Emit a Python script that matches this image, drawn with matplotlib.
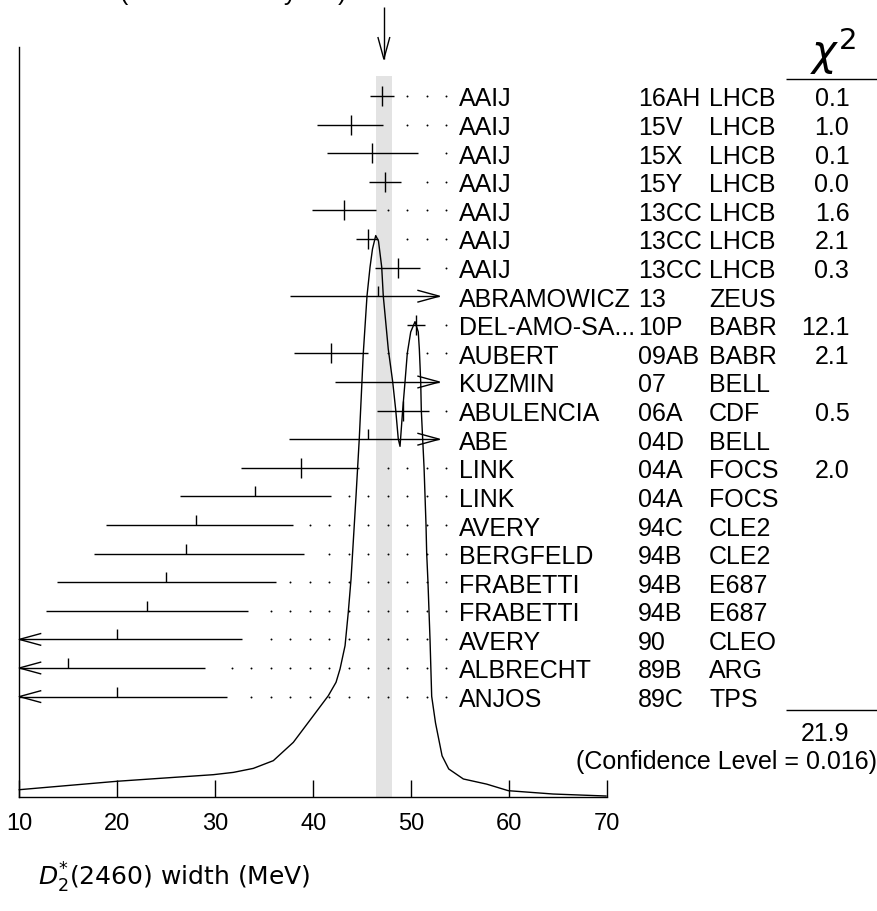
import numpy as np
import matplotlib
matplotlib.use("Agg")
import matplotlib.pyplot as plt

plt.rcParams['font.family'] = ['Liberation Sans', 'DejaVu Sans']
plt.rcParams['mathtext.fontset'] = 'dejavusans'

# measurements, top to bottom
authors = ["AAIJ", "AAIJ", "AAIJ", "AAIJ", "AAIJ", "AAIJ", "AAIJ", "ABRAMOWICZ",
           "DEL-AMO-SA...", "AUBERT", "KUZMIN", "ABULENCIA", "ABE", "LINK", "LINK",
           "AVERY", "BERGFELD", "FRABETTI", "FRABETTI", "AVERY", "ALBRECHT", "ANJOS"]
refs = ["16AH", "15V", "15X", "15Y", "13CC", "13CC", "13CC", "13", "10P", "09AB", "07",
        "06A", "04D", "04A", "04A", "94C", "94B", "94B", "94B", "90", "89B", "89C"]
expts = ["LHCB", "LHCB", "LHCB", "LHCB", "LHCB", "LHCB", "LHCB", "ZEUS", "BABR", "BABR",
         "BELL", "CDF", "BELL", "FOCS", "FOCS", "CLE2", "CLE2", "E687", "E687", "CLEO",
         "ARG", "TPS"]
values = [47.0, 43.8, 46.0, 47.3, 43.1, 45.6, 48.6, 46.6, 50.5, 41.8, 55.0,
          49.2, 45.6, 38.7, 34.1, 28.0, 27.0, 25.0, 23.0, 20.0, 15.0, 20.0]
err_lo = [1.25, 3.4, 4.65, 1.65, 3.2, 1.2, 2.3, 9.0, 0.9, 3.8, 12.8,
          2.7, 8.05, 6.1, 7.7, 9.2, 9.4, 11.15, 10.3, 12.7, 13.9, 11.2]
err_hi = [1.25, 3.3, 4.65, 1.65, 3.3, 1.0, 2.3, 10.0, 0.9, 3.8, 12.8,
          2.6, 8.0, 6.0, 7.7, 9.96, 12.05, 11.2, 10.3, 12.7, 13.9, 11.2]
chi2 = ["0.1", "1.0", "0.1", "0.0", "1.6", "2.1", "0.3", "", "12.1", "2.1", "",
        "0.5", "", "2.0", "", "", "", "", "", "", "", ""]
used = [c != "" for c in chi2]

avg = 47.2
avg_err = 0.8
chi2_total = "21.9"
conf_level = "(Confidence Level = 0.016)"

# ideogram curve (MeV, height in row units)
curve_x = [10.0, 20.0, 29.8, 31.84, 33.88, 35.92, 37.96, 40.0, 41.53, 42.32, 42.73,
           43.24, 43.57, 43.85, 44.36, 44.69, 45.10, 45.48, 45.79, 46.04, 46.37,
           46.65, 46.98, 47.14, 47.65, 48.10, 48.41, 48.67, 48.85, 49.12, 49.36,
           49.59, 49.94, 50.38, 50.71, 50.82, 50.96, 51.02, 51.16, 51.30, 51.40,
           51.50, 51.57, 51.70, 51.91, 52.08, 52.47, 53.14, 53.82, 55.31, 57.69,
           59.90, 64.46, 69.87]
curve_h = [0.245, 0.54, 0.77, 0.85, 0.99, 1.26, 1.90, 2.83, 3.53, 4.0, 4.47,
           5.28, 6.45, 7.61, 10.52, 12.51, 15.50, 17.51, 18.52, 19.15, 19.62,
           19.43, 18.52, 17.51, 15.65, 14.51, 13.52, 12.51, 12.25, 13.52, 14.51,
           15.50, 16.25, 16.61, 16.25, 15.65, 14.51, 13.52, 12.51, 11.52, 10.52,
           9.51, 8.51, 7.51, 5.50, 3.51, 2.58, 1.43, 0.97, 0.62, 0.44,
           0.21, 0.094, 0.024]

W, H = 878, 912
fig = plt.figure(figsize=(W / 100, H / 100), dpi=100)
x0px, x1px = 19.3, 607.3
ybot, ytop = 797.7, 48.0
rowpx = 28.6
ax = fig.add_axes([x0px / W, (H - ybot) / H, (x1px - x0px) / W, (ybot - ytop) / H])
ax.set_xlim(10, 70)
ax.set_ylim(0, (ybot - ytop) / rowpx)
pxx = (x1px - x0px) / 60.0  # pixels per MeV
pxy = rowpx                 # pixels per row

for s in ['top', 'right']:
    ax.spines[s].set_visible(False)
for s in ['left', 'bottom']:
    ax.spines[s].set_linewidth(1.0)
ax.set_xticks([10, 20, 30, 40, 50, 60, 70])
ax.set_yticks([])
ax.tick_params(axis='x', direction='in', length=12.2, width=1.0, labelsize=17, pad=11)

lw = 1.0
fs = 18
kw = dict(color='k', lw=lw, clip_on=False, solid_capstyle='butt')

# average band
ax.fill_betweenx([0, 25.21], avg - avg_err, avg + avg_err, color='#e3e3e3', lw=0, zorder=0)

clip_hi = 52.86
clip_lo = 10.0
head_len = 22 / pxx
head_w = 6 / pxy
tick_h = 10 / pxy

n = len(values)
ypos = (n + 2.5) - np.arange(n)
dot_grid = 53.54 - 1.985 * np.arange(30)

for i in range(n):
    y = ypos[i]
    v = values[i]
    lo = v - err_lo[i]
    hi = v + err_hi[i]
    left = max(lo, clip_lo)
    right = min(hi, clip_hi)
    ax.plot([left, right], [y, y], **kw)
    if hi > clip_hi:
        ax.plot([clip_hi - head_len, clip_hi, clip_hi - head_len],
                [y + head_w, y, y - head_w], **kw)
    if lo < clip_lo:
        ax.plot([clip_lo + head_len, clip_lo, clip_lo + head_len],
                [y + head_w, y, y - head_w], **kw)
    if v < clip_hi:
        if used[i]:
            ax.plot([v, v], [y - tick_h, y + tick_h], **kw)
        else:
            ax.plot([v, v], [y, y + tick_h], **kw)
    if hi <= clip_hi:
        dx = dot_grid[(dot_grid > right + 1.17) & (dot_grid < 54.5)]
        ax.plot(dx, [y] * len(dx), 'o', color='k', ms=1.4, mew=0, clip_on=False)
    ax.text(54.9, y, authors[i], fontsize=fs, va='center_baseline', ha='left', clip_on=False)
    ax.text(73.1, y, refs[i], fontsize=fs, va='center_baseline', ha='left', clip_on=False)
    ax.text(80.4, y, expts[i], fontsize=fs, va='center_baseline', ha='left', clip_on=False)
    if chi2[i]:
        ax.text(94.7, y, chi2[i], fontsize=fs, va='center_baseline', ha='right', clip_on=False)

# ideogram
ax.plot(curve_x, curve_h, color='k', lw=lw, clip_on=False)

# chi2 column decorations
ax.plot([88.2, 97.5], [25.09, 25.09], **kw)
ax.text(93.0, 25.2, r'$\chi^2$', fontsize=30, ha='center', va='bottom', clip_on=False)
ax.plot([88.2, 97.5], [3.03, 3.03], **kw)
ax.text(94.7, 2.30, chi2_total, fontsize=fs, va='center_baseline', ha='right', clip_on=False)
ax.text(97.5, 1.35, conf_level, fontsize=fs, va='center_baseline', ha='right', clip_on=False)

# arrow marking the average
ya, yb = (ybot - 8) / pxy, (ybot - 60) / pxy
ax.plot([avg, avg], [ya, yb], **kw)
ax.plot([avg - head_w * pxy / pxx, avg, avg + head_w * pxy / pxx],
        [yb + head_len * pxx / pxy, yb, yb + head_len * pxx / pxy], **kw)

# only the descenders of this line show at the top edge, as in the reference
fig.text(233 / W, 1.0, "(Error scaled by 1.9)", fontsize=fs, ha='center', va='baseline')
fig.text(38 / W, 1 - 878 / H, r'$D_2^{*}$(2460) width (MeV)', fontsize=18,
         family='DejaVu Sans', ha='left', va='center')

fig.savefig("out.png", dpi=100)
